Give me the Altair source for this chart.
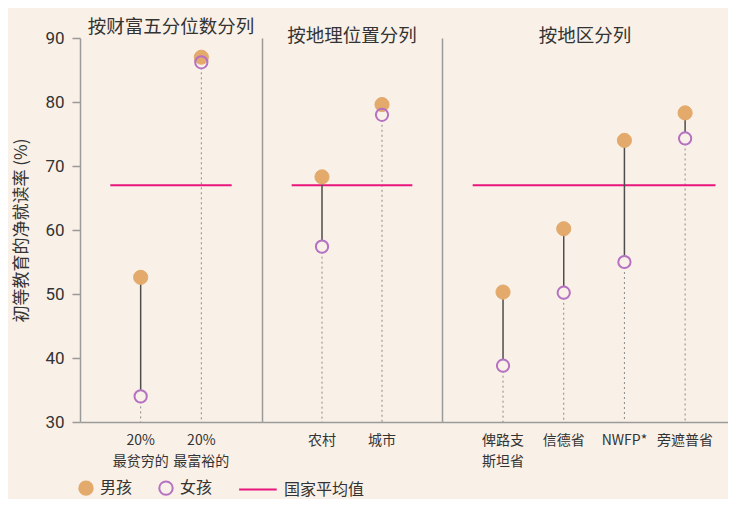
import altair as alt
import pandas as pd

# ---- data ----
groups = ["wealth", "wealth", "location", "location", "region", "region", "region", "region"]
categories = ["20%|最贫穷的", "20%|最富裕的", "农村", "城市", "俾路支|斯坦省", "信德省", "NWFP*", "旁遮普省"]
boys = [52.6, 87.0, 68.3, 79.6, 50.3, 60.2, 74.0, 78.3]
girls = [34.0, 86.2, 57.4, 78.0, 38.8, 50.2, 55.0, 74.3]
national_average = 67.0
panel_groups = ["wealth", "location", "region"]
panel_titles = ["按财富五分位数分列", "按地理位置分列", "按地区分列"]
series_names = ["男孩", "女孩", "国家平均值"]
y_title = "初等教育的净就读率 (%)"

# ---- style ----
BG = "#f9f0e7"
BOY = "#e3aa6b"
GIRL = "#b571c2"
AVG = "#e8157c"
AXIS = "#9a9a9a"
TXT = "#333333"
CJK = "Noto Sans CJK SC"
NUM = "Liberation Sans Narrow, Roboto, Noto Sans"

wide = pd.DataFrame({"group": groups, "category": categories, "boy": boys, "girl": girls})
wide["low"] = wide[["boy", "girl"]].min(axis=1)
long = pd.concat([
    pd.DataFrame({"group": groups, "category": categories, "series": series_names[0], "value": boys}),
    pd.DataFrame({"group": groups, "category": categories, "series": series_names[1], "value": girls}),
], ignore_index=True)

fill_scale = alt.Scale(domain=series_names, range=[BOY, "transparent", "transparent"])
stroke_scale = alt.Scale(domain=series_names, range=[BOY, GIRL, AVG])
shape_scale = alt.Scale(domain=series_names, range=["circle", "circle", "M-4.6,0H1"])
legend = alt.Legend(title=None)

yscale = alt.Scale(domain=[30, 90], nice=False, zero=False)

STEP = 60.7
widths = [182, 180, 286]
pads = [(0.5, 0.5), (0.5, 0.5), (0.356, 0.71)]


def panel(i):
    g = panel_groups[i]
    cats = [c for c, gg in zip(categories, groups) if gg == g]
    wide_g = wide[wide.group == g]
    long_g = long[long.group == g]
    avg_g = pd.DataFrame({"start": [cats[0]], "end": [cats[-1]],
                          "value": [national_average], "series": [series_names[2]]})
    po, al = pads[i]
    xscale = alt.Scale(domain=cats, paddingInner=0, paddingOuter=po, align=al)
    xaxis = alt.Axis(labelExpr="split(datum.label, '|')", labelFont=CJK, labelFontSize=14,
                     labelColor=TXT, labelLineHeight=21, labelPadding=11, ticks=False,
                     domainColor=AXIS, domainWidth=1.5, labelAngle=0, grid=False, title=None)
    xenc = alt.X("category:N", scale=xscale, sort=cats, axis=xaxis, title=None)
    if i == 0:
        yaxis = alt.Axis(values=[30, 40, 50, 60, 70, 80, 90], tickSize=8, tickColor=AXIS,
                         tickWidth=1.5, domainColor=AXIS, domainWidth=1.5, labelFont=NUM,
                         labelFontSize=17, labelColor=TXT, labelPadding=8, grid=False,
                         title=y_title, titleFont=CJK, titleFontSize=17, titleFontWeight="normal",
                         titleColor=TXT, titlePadding=14)
    else:
        yaxis = alt.Axis(labels=False, ticks=False, domainColor=AXIS, domainWidth=1.5,
                         grid=False, title=None, minExtent=0, maxExtent=0)

    stem = alt.Chart(wide_g).mark_rule(color="#8a8a8a", strokeDash=[2, 3], strokeWidth=1).encode(
        x=xenc, y=alt.Y("low:Q", scale=yscale, axis=yaxis), y2=alt.datum(30))
    avg = alt.Chart(avg_g).mark_rule(strokeWidth=2, xOffset=-STEP / 2, x2Offset=STEP / 2).encode(
        x=alt.X("start:N", scale=xscale, axis=xaxis, title=None), x2="end:N",
        y=alt.Y("value:Q", scale=yscale),
        stroke=alt.Stroke("series:N", scale=stroke_scale, legend=legend))
    conn = alt.Chart(wide_g).mark_rule(color="#4d4d4d", strokeWidth=1.5).encode(
        x=xenc, y=alt.Y("boy:Q", scale=yscale), y2="girl:Q")
    backdrop = alt.Chart(wide_g).mark_point(shape="circle", filled=True, color=BG, opacity=1,
                                            size=150).encode(
        x=xenc, y=alt.Y("girl:Q", scale=yscale))
    boy_pts = alt.Chart(long_g).transform_filter(alt.datum.series == series_names[0]).mark_point(
        filled=True, opacity=1, size=200, strokeWidth=1).encode(
        x=xenc, y=alt.Y("value:Q", scale=yscale),
        fill=alt.Fill("series:N", scale=fill_scale, legend=legend),
        stroke=alt.Stroke("series:N", scale=stroke_scale, legend=legend),
        shape=alt.Shape("series:N", scale=shape_scale, legend=legend))
    girl_pts = alt.Chart(long_g).transform_filter(alt.datum.series == series_names[1]).mark_point(
        filled=True, opacity=1, size=150, strokeWidth=2).encode(
        x=xenc, y=alt.Y("value:Q", scale=yscale),
        fill=alt.Fill("series:N", scale=fill_scale, legend=legend),
        stroke=alt.Stroke("series:N", scale=stroke_scale, legend=legend),
        shape=alt.Shape("series:N", scale=shape_scale, legend=legend))
    return alt.layer(stem, avg, conn, backdrop, boy_pts, girl_pts).properties(
        width=widths[i], height=384,
        title=alt.Title(panel_titles[i], font=CJK, fontSize=18.5, fontWeight="normal", color=TXT,
                        anchor="middle", offset=-7))


chart = alt.hconcat(*[panel(i) for i in range(3)], spacing=0).resolve_scale(
    x="independent").properties(
    background=BG, padding={"left": 4, "top": 9, "right": 0, "bottom": 0}
).configure_view(stroke=None).configure_legend(
    orient="none", direction="horizontal", legendX=-2, legendY=442, padding=0,
    symbolSize=180, symbolStrokeWidth=2, labelFont=CJK, labelFontSize=16, labelColor=TXT,
    labelOffset=6, columnPadding=22, symbolOpacity=1
)

chart.save("out.html", embed_options={"renderer": "svg", "actions": False})
